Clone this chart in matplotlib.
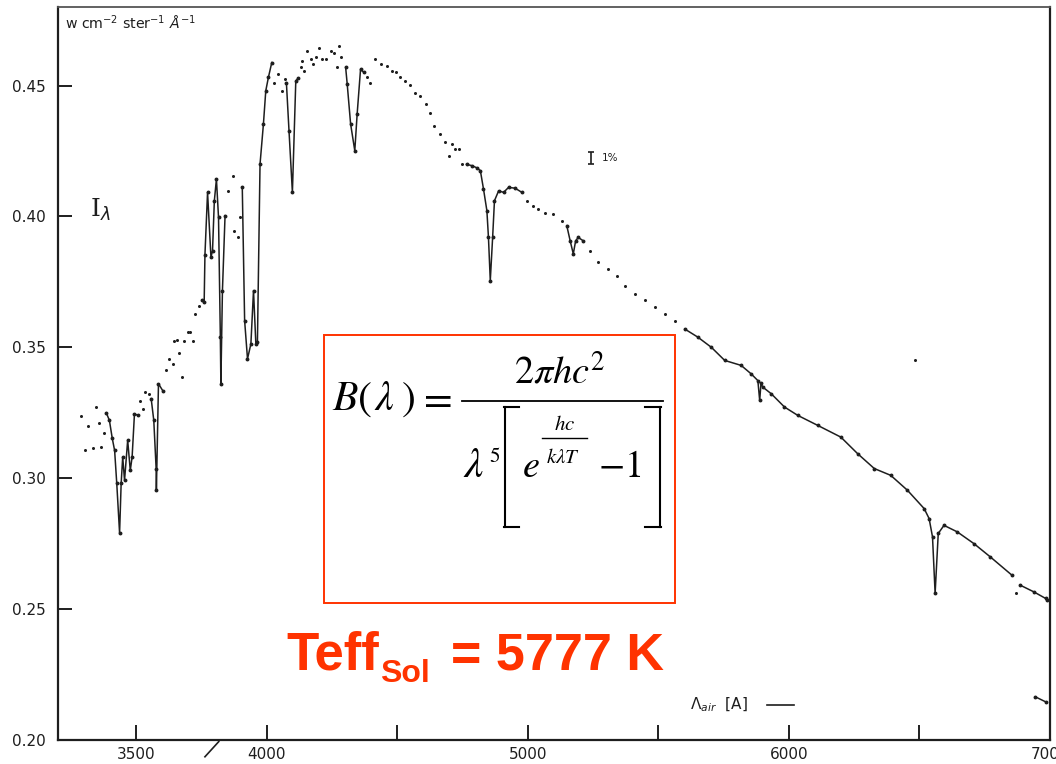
import numpy as np
import matplotlib.pyplot as plt
from matplotlib import font_manager
from matplotlib.patches import Rectangle
from matplotlib.lines import Line2D

# Solar disc-centre intensity, wavelength in Angstrom, I in W cm^-2 ster^-1 A^-1
uv_dots_wl = [3289, 3302, 3315, 3334, 3347, 3357, 3366, 3375]
uv_dots_i = [0.3237, 0.3106, 0.3198, 0.3115, 0.3272, 0.3211, 0.3119, 0.3172]

balmer_wl = [3385, 3397, 3408, 3417, 3425, 3436, 3442, 3448, 3455, 3467,
             3477, 3484, 3493, 3506]
balmer_i = [0.3250, 0.3221, 0.3152, 0.3106, 0.2983, 0.2791, 0.2980, 0.3081,
            0.2992, 0.3145, 0.3030, 0.3081, 0.3246, 0.3240]

near_uv_dots_wl = [3515, 3525, 3535, 3548]
near_uv_dots_i = [0.3294, 0.3265, 0.3329, 0.3323]

line3580_wl = [3557, 3567, 3576, 3577, 3585, 3601]
line3580_i = [0.3304, 0.3221, 0.3037, 0.2954, 0.3361, 0.3335]

rise_dots_wl = [3614, 3627, 3639, 3646, 3655, 3665, 3675, 3684, 3697, 3707,
                3718, 3726, 3739]
rise_dots_i = [0.3415, 0.3456, 0.3437, 0.3526, 0.3529, 0.3479, 0.3386, 0.3523,
               0.3558, 0.3558, 0.3526, 0.3628, 0.3657]

fe_wl = [3752, 3760, 3763, 3773, 3786, 3792, 3799, 3807, 3815, 3822, 3824,
         3830, 3840]
fe_i = [0.3681, 0.3672, 0.3854, 0.4092, 0.3844, 0.3869, 0.4060, 0.4143,
        0.3996, 0.3539, 0.3361, 0.3717, 0.4003]

hk_dots_wl = [3853, 3869, 3875, 3888, 3897]
hk_dots_i = [0.4098, 0.4156, 0.3946, 0.3920, 0.3996]

hk_wl = [3906, 3915, 3926, 3939, 3949, 3958, 3964, 3974, 3987, 3996, 4006,
         4019]
hk_i = [0.4111, 0.3602, 0.3456, 0.3513, 0.3717, 0.3513, 0.3519, 0.4200,
        0.4353, 0.4480, 0.4531, 0.4588]

blue_dots_wl = [4028, 4041, 4057, 4070]
blue_dots_i = [0.4511, 0.4543, 0.4480, 0.4524]

hdelta_wl = [4075, 4085, 4098, 4111, 4120]
hdelta_i = [0.4511, 0.4327, 0.4092, 0.4518, 0.4528]

peak_dots_wl = [4130, 4136, 4143, 4155, 4168, 4178, 4187, 4200, 4210, 4225,
                4245, 4258, 4268, 4276, 4286]
peak_dots_i = [0.4570, 0.4594, 0.4556, 0.4632, 0.4601, 0.4582, 0.4610, 0.4643,
               0.4601, 0.4601, 0.4632, 0.4626, 0.4570, 0.4651, 0.4609]

hgamma_wl = [4302, 4308, 4321, 4337, 4346, 4359, 4372]
hgamma_i = [0.4569, 0.4505, 0.4353, 0.4251, 0.4391, 0.4562, 0.4550]

green_dots_wl = [4384, 4397, 4416, 4437, 4461, 4479, 4493, 4509, 4531, 4548,
                 4569, 4586, 4608, 4627, 4639, 4665, 4684, 4697, 4709, 4722,
                 4735, 4747]
green_dots_i = [0.4531, 0.4511, 0.4601, 0.4583, 0.4575, 0.4556, 0.4550, 0.4533,
                0.4518, 0.4503, 0.4473, 0.4461, 0.4429, 0.4397, 0.4346, 0.4315,
                0.4283, 0.4232, 0.4276, 0.4257, 0.4257, 0.4200]

hbeta_wl = [4765, 4786, 4804, 4818, 4830, 4843, 4849, 4856, 4865, 4872, 4888,
            4907, 4926, 4951, 4977]
hbeta_i = [0.4199, 0.4194, 0.4186, 0.4175, 0.4105, 0.4022, 0.3920, 0.3755,
           0.3920, 0.4060, 0.4098, 0.4092, 0.4111, 0.4108, 0.4092]

mid_dots_wl = [4996, 5021, 5040, 5066, 5098, 5129]
mid_dots_i = [0.4060, 0.4041, 0.4028, 0.4015, 0.4009, 0.3984]

mgb_wl = [5149, 5162, 5174, 5183, 5193, 5212]
mgb_i = [0.3965, 0.3907, 0.3857, 0.3907, 0.3920, 0.3907]

yellow_dots_wl = [5238, 5270, 5308, 5340, 5372, 5410, 5448, 5486, 5525, 5563]
yellow_dots_i = [0.3869, 0.3825, 0.3799, 0.3774, 0.3736, 0.3704, 0.3679,
                 0.3653, 0.3628, 0.3602]

red_wl = [5601, 5651, 5703, 5754, 5817, 5855, 5881, 5888, 5893, 5900, 5932,
          5983, 6034, 6110, 6199, 6263, 6327, 6390, 6454, 6518, 6537, 6550,
          6560, 6572, 6594, 6645, 6709, 6772, 6855]
red_i = [0.3570, 0.3539, 0.3500, 0.3450, 0.3431, 0.3399, 0.3373, 0.3297,
         0.3362, 0.3348, 0.3323, 0.3272, 0.3240, 0.3202, 0.3157, 0.3094,
         0.3037, 0.3011, 0.2954, 0.2884, 0.2846, 0.2776, 0.2560, 0.2789,
         0.2820, 0.2795, 0.2750, 0.2699, 0.2629]

far_red_wl = [6887, 6938, 6983, 6990]
far_red_i = [0.2591, 0.2566, 0.2541, 0.2535]

stray_wl = [6484, 6868]
stray_i = [0.3452, 0.2560]

tail_wl = [6944, 6983]
tail_i = [0.2165, 0.2146]

line_segments = [(balmer_wl, balmer_i), (line3580_wl, line3580_i),
                 (fe_wl, fe_i), (hk_wl, hk_i), (hdelta_wl, hdelta_i),
                 (hgamma_wl, hgamma_i), (hbeta_wl, hbeta_i), (mgb_wl, mgb_i),
                 (red_wl, red_i), (far_red_wl, far_red_i), (tail_wl, tail_i)]
dot_groups = [(uv_dots_wl, uv_dots_i), (near_uv_dots_wl, near_uv_dots_i),
              (rise_dots_wl, rise_dots_i), (hk_dots_wl, hk_dots_i),
              (blue_dots_wl, blue_dots_i), (peak_dots_wl, peak_dots_i),
              (green_dots_wl, green_dots_i), (mid_dots_wl, mid_dots_i),
              (yellow_dots_wl, yellow_dots_i), (stray_wl, stray_i)]

x_major = [3500, 4000, 5000, 6000, 7000]
x_minor = [4500, 5500, 6500]
y_ticks = [0.20, 0.25, 0.30, 0.35, 0.40, 0.45]

ink = "#1e1e1e"
red = "#ff3300"
W, H = 1056, 764

# regular-width Liberation Sans Bold (skip the Narrow cut)
bold_files = [f.fname for f in font_manager.fontManager.ttflist
              if f.name == "Liberation Sans" and f.weight in (700, "bold")
              and f.style == "normal" and "Narrow" not in f.fname]
if bold_files:
    red_font = font_manager.FontProperties(fname=bold_files[0])
else:
    red_font = font_manager.FontProperties(family="DejaVu Sans", weight="bold")

fig = plt.figure(figsize=(10.56, 7.64), dpi=100)
ax = fig.add_axes([0.0549, 0.0314, 0.9394, 0.9594])

for wl, inten in line_segments:
    ax.plot(wl, inten, "-", color=ink, lw=1.1, marker="o", ms=1.8,
            solid_joinstyle="round")
for wl, inten in dot_groups:
    ax.plot(wl, inten, "o", color=ink, ms=2.2, mew=0)

# 1 % error bar
ax.errorbar([5242], [0.4224], yerr=[0.0024], color=ink, lw=1.2, capsize=2.5,
            capthick=1.2)
ax.text(5285, 0.4224, "1%", fontsize=7.5, color=ink, va="center")

ax.set_xlim(3200, 6990)
ax.set_ylim(0.20, 0.48)
ax.set_xticks(x_major)
ax.set_xticks(x_minor, minor=True)
ax.set_yticks(y_ticks)
ax.set_yticklabels(["%.2f" % v for v in y_ticks])
ax.tick_params(axis="x", which="both", direction="in", length=11, width=1.4,
               colors=ink, labelsize=11, pad=5)
ax.tick_params(axis="y", direction="in", length=10, width=1.4, colors=ink,
               labelsize=11, pad=9)
ax.tick_params(top=False, right=False)
for sp in ax.spines.values():
    sp.set_color(ink)
    sp.set_linewidth(1.6)
ax.spines["top"].set_color("#555555")
ax.spines["top"].set_linewidth(1.3)

# break mark under the wavelength axis
ax.plot([3763, 3816], [0.1936, 0.1994], color=ink, lw=1.2, clip_on=False)

ax.text(0.007, 0.978, r"w cm$^{-2}$ ster$^{-1}$ $\AA^{-1}$", transform=ax.transAxes,
        fontsize=10.2, color=ink, va="center", ha="left")
ax.text(0.043, 0.723, r"I$_\lambda$", transform=ax.transAxes, fontsize=18,
        family="DejaVu Serif", color=ink, va="center", ha="center")
ax.text(0.637, 0.048, r"$\Lambda_{air}$  [A]", transform=ax.transAxes,
        fontsize=11, color=ink, va="center", ha="left")
ax.plot([0.715, 0.742], [0.048, 0.048], transform=ax.transAxes, color=ink,
        lw=1.2)


def px(x, y):
    # pixel position from the top-left corner -> figure fraction
    return x / W, 1 - y / H


def fline(x0, y0, x1, y1, lw=1.3, color="black"):
    (a, b), (c, d) = px(x0, y0), px(x1, y1)
    fig.add_artist(Line2D([a, c], [b, d], transform=fig.transFigure,
                          color=color, lw=lw))


def ftext(x, y, s, size, ha="left", va="baseline"):
    fig.text(*px(x, y), s, fontsize=size, math_fontfamily="stix", ha=ha,
             va=va, color="black")


# Planck law box
fig.patches.append(Rectangle(px(324, 603), 351 / W, 268 / H,
                             transform=fig.transFigure, fill=False,
                             edgecolor=red, lw=1.4))
ftext(332, 410, r"$B(\hspace{0.1}\lambda\hspace{0.25})$", 30)
ftext(417, 410, r"$=$", 30)
fline(462, 401, 663, 401)
ftext(560, 383, r"$2\pi hc^2$", 27.5, ha="center")
ftext(463, 477, r"$\lambda$", 31)
ftext(489, 462, r"$5$", 15)
# square brackets around the exponential term
fline(505, 407, 505, 527, lw=1.5)
fline(504.3, 407, 519, 407, lw=1.5)
fline(504.3, 527, 519, 527, lw=1.5)
fline(660, 407, 660, 527, lw=1.5)
fline(645, 407, 660.7, 407, lw=1.5)
fline(645, 527, 660.7, 527, lw=1.5)
ftext(522, 477, r"$e$", 27.5)
ftext(565, 430, r"$hc$", 15, ha="center")
fline(542, 438, 587, 438, lw=1.0)
ftext(563, 463, r"$k\lambda T$", 15, ha="center")
ftext(598, 477, r"$-1$", 27.5)

# effective temperature label
fig.text(*px(286, 670), "Teff", fontproperties=red_font, fontsize=38,
         color=red, ha="left", va="baseline")
fig.text(*px(380, 682), "Sol", fontproperties=red_font, fontsize=23,
         color=red, ha="left", va="baseline")
fig.text(*px(451, 670), "= 5777 K", fontproperties=red_font, fontsize=37.5,
         color=red, ha="left", va="baseline")

fig.savefig("out.png", dpi=100)
